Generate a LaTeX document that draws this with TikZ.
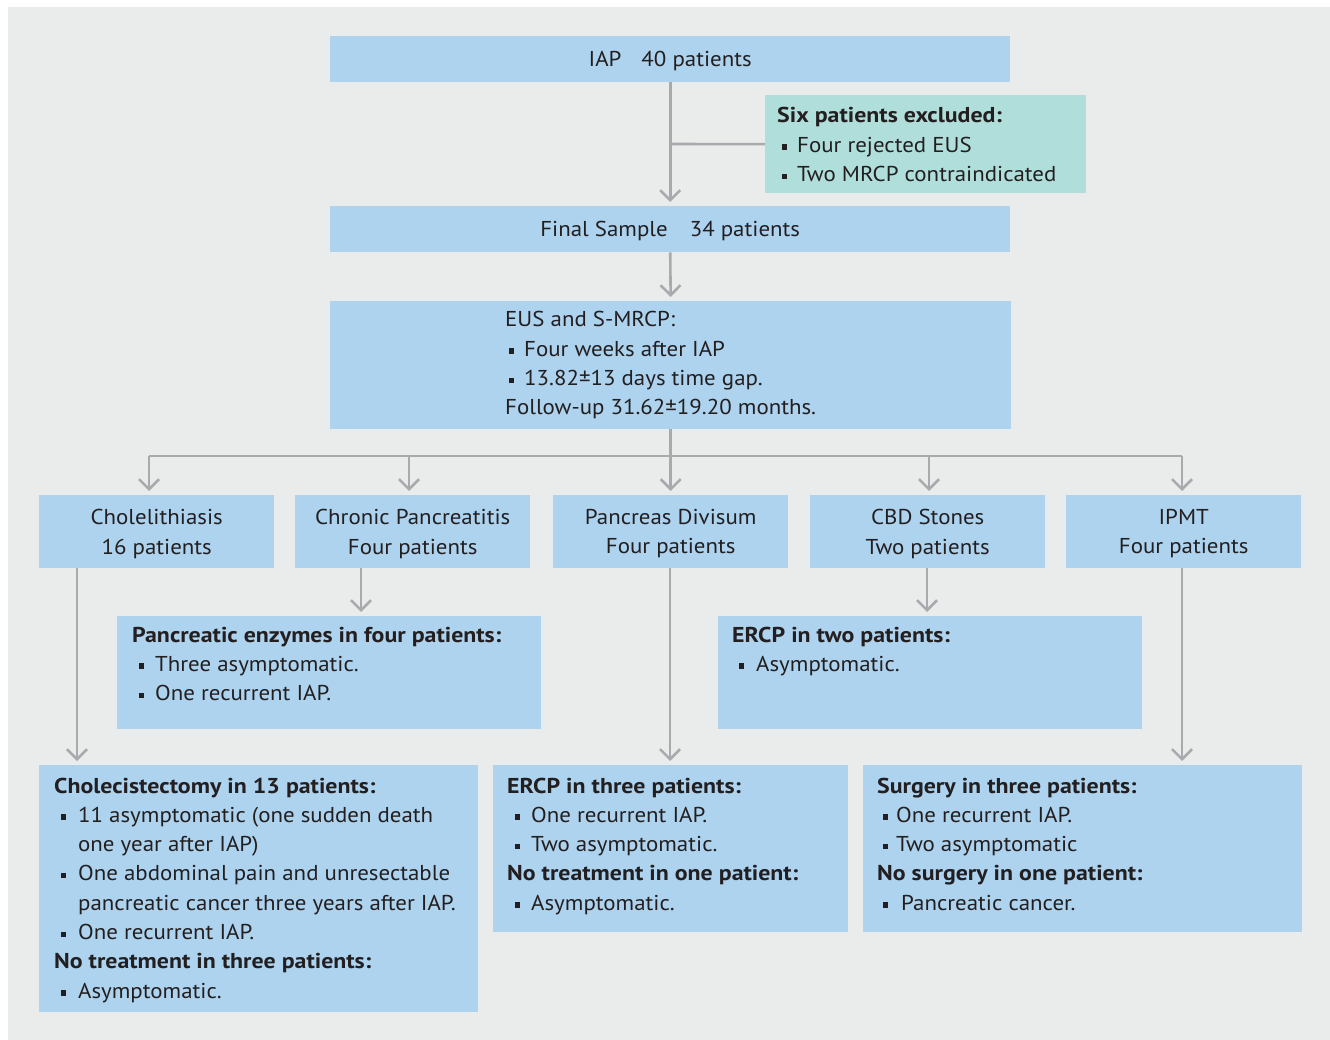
\documentclass[tikz,border=0pt]{standalone}
\usepackage{fontspec}
\setmainfont{PT Sans}[FakeStretch=1.065, BoldFeatures={FakeStretch=1.11}]
\usetikzlibrary{arrows.meta}
\definecolor{bgc}{RGB}{234,236,236}
\definecolor{boxblue}{RGB}{173,211,239}
\definecolor{boxteal}{RGB}{176,222,219}
\definecolor{linec}{RGB}{168,170,173}
\definecolor{txtc}{RGB}{35,31,32}
\newcommand{\sqb}{\rule[2.5pt]{5.5pt}{5.5pt}}
\newcommand{\bl}[2]{\makebox[#2][l]{\hspace*{#1}\sqb}}
\newcommand{\tb}[1]{\parbox[t]{460pt}{\raggedright #1}}
\begin{document}
\begin{tikzpicture}[x=1pt,y=-1pt,
  every node/.style={text=txtc, font=\fontsize{21.5pt}{29.3pt}\selectfont},
  box/.style={fill=boxblue, draw=none, inner sep=0pt, anchor=north west},
  lvl/.style={box, minimum width=235pt, minimum height=73pt, align=center, text depth=0pt},
  txt/.style={anchor=base west, inner sep=0pt},
  conn/.style={draw=linec, line width=2.6pt},
  arr/.style={conn, -{Straight Barb[length=10pt,width=20pt,line width=2.6pt]}, shorten >=4pt}]
\useasboundingbox (0,0) rectangle (1330,1040);
\fill[bgc] (8,7) rectangle (1330,1040);

% top boxes
\node[box, minimum width=680pt, minimum height=46pt, text depth=0pt] (iap) at (330,36) {IAP\hspace{20pt}40 patients};
\node[box, fill=boxteal, minimum width=321pt, minimum height=98pt] (excl) at (765,95) {};
\node[txt] (exclt) at (777,123) {\tb{\textbf{Six patients excluded:}\\
  \bl{4.5pt}{20pt}Four rejected EUS\\
  \bl{4.5pt}{20pt}Two MRCP contraindicated}};
\node[box, minimum width=680pt, minimum height=46pt, text depth=0pt] (final) at (330,206) {Final Sample\hspace{22pt}34 patients};
\node[box, minimum width=681pt, minimum height=128pt] (eus) at (330,301) {};
\node[txt] (eust) at (505,327) {\tb{EUS and S-MRCP:\\
  \bl{3.5pt}{19pt}Four weeks after IAP\\
  \bl{3.5pt}{19pt}13.82±13 days time gap.\\
  Follow-up 31.62±19.20 months.}};

% level boxes
\node[lvl] (chol) at (39,495) {Cholelithiasis\\16 patients};
\node[lvl] (cp) at (295,495) {Chronic Pancreatitis\\Four patients};
\node[lvl] (pd) at (553,495) {Pancreas Divisum\\Four patients};
\node[lvl] (cbd) at (810,495) {CBD Stones\\Two patients};
\node[lvl] (ipmt) at (1066,495) {IPMT\\Four patients};

% middle boxes
\node[box, minimum width=424pt, minimum height=113pt] (enz) at (117,616) {};
\node[txt] (enzt) at (132,642) {\tb{\textbf{Pancreatic enzymes in four patients:}\\
  \bl{6.5pt}{23pt}Three asymptomatic.\\
  \bl{6.5pt}{23pt}One recurrent IAP.}};
\node[box, minimum width=424pt, minimum height=113pt] (ercpb) at (718,616) {};
\node[txt] (ercpbt) at (732,642) {\tb{\textbf{ERCP in two patients:}\\
  \bl{6.5pt}{24pt}Asymptomatic.}};

% bottom boxes
\node[box, minimum width=439pt, minimum height=247pt] (chx) at (39,765) {};
\node[txt] (chxt) at (54,793) {\tb{\textbf{Cholecistectomy in 13 patients:}\\
  \bl{6.5pt}{24pt}11 asymptomatic (one sudden death\\
  \hspace*{24pt}one year after IAP)\\
  \bl{6.5pt}{24pt}One abdominal pain and unresectable\\
  \hspace*{24pt}pancreatic cancer three years after IAP.\\
  \bl{6.5pt}{24pt}One recurrent IAP.\\
  \textbf{No treatment in three patients:}\\
  \bl{6.5pt}{24pt}Asymptomatic.}};
\node[box, minimum width=355pt, minimum height=167pt] (ercpc) at (493,765) {};
\node[txt] (ercpct) at (507,793) {\tb{\textbf{ERCP in three patients:}\\
  \bl{7.5pt}{24pt}One recurrent IAP.\\
  \bl{7.5pt}{24pt}Two asymptomatic.\\
  \textbf{No treatment in one patient:}\\
  \bl{7.5pt}{24pt}Asymptomatic.}};
\node[box, minimum width=439pt, minimum height=167pt] (surg) at (863,765) {};
\node[txt] (surgt) at (877,793) {\tb{\textbf{Surgery in three patients:}\\
  \bl{5.5pt}{19pt}One recurrent IAP.\\
  \bl{5.5pt}{19pt}Two asymptomatic\\
  \textbf{No surgery in one patient:}\\
  \bl{5.5pt}{24pt}Pancreatic cancer.}};

% connectors
\coordinate (j1) at (670,144);
\draw[arr] (iap.south) -- (final.north);
\draw[conn] (j1) -- (excl.west);
\draw[arr] (final.south) -- (eus.north);
\coordinate (bl) at (149,456);
\coordinate (b2) at (409,456);
\coordinate (b4) at (929,456);
\coordinate (br) at (1182,456);
\draw[conn] (eus.south) -- (eus.south |- bl);
\draw[arr] (bl) -- (bl |- chol.north);
\draw[conn] (bl) -- (br);
\draw[arr] (b2) -- (b2 |- cp.north);
\draw[arr] (eus.south) -- (eus.south |- pd.north);
\draw[arr] (b4) -- (b4 |- cbd.north);
\draw[arr] (br) -- (br |- ipmt.north);

\coordinate (d1) at (77,568);
\coordinate (d2) at (361,568);
\coordinate (d3) at (670,568);
\coordinate (d4) at (927,568);
\coordinate (d5) at (1182,568);
\draw[arr] (d1) -- (d1 |- chx.north);
\draw[arr] (d2) -- (d2 |- enz.north);
\draw[arr] (d3) -- (d3 |- ercpc.north);
\draw[arr] (d4) -- (d4 |- ercpb.north);
\draw[arr] (d5) -- (d5 |- surg.north);
\end{tikzpicture}
\end{document}
